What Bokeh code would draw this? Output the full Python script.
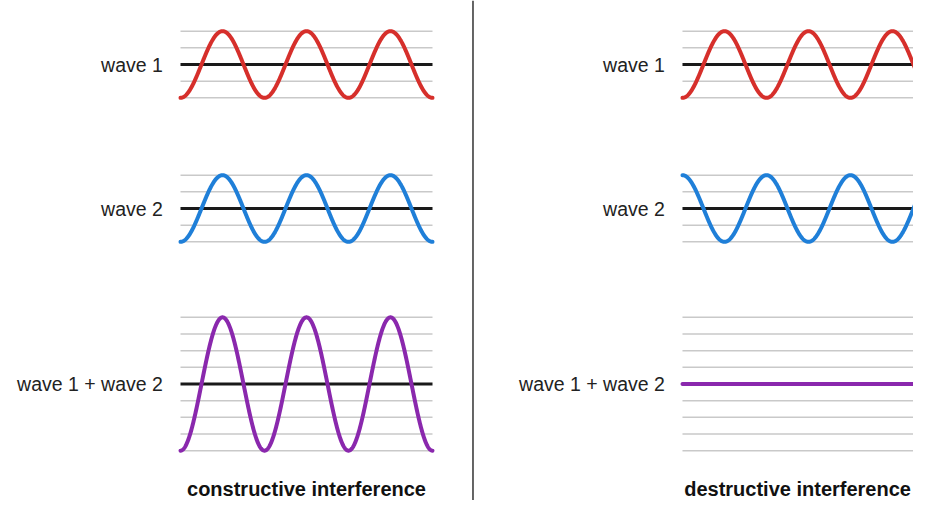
import numpy as np
from bokeh.plotting import figure
from bokeh.models import Range1d, Span
from bokeh.core.properties import value
from bokeh.embed import file_html
from bokeh.resources import INLINE

# ---------------- data ----------------
panel_titles = ["constructive interference", "destructive interference"]
row_labels = ["wave 1", "wave 2", "wave 1 + wave 2"]
n_cycles = 3
wave1_amp = [2.0, 2.0]            # amplitude (grid units) per panel
wave1_phase = [np.pi, np.pi]      # phase per panel (starts at trough)
wave2_amp = [2.0, 2.0]
wave2_phase = [np.pi, 0.0]        # in phase / out of phase
grid_half = [2, 2, 4]             # grid lines on each side of the axis, per row

# ---------------- layout / style ----------------
PANEL_X0 = [0.0, 5.976]
ROW_Y = [19.17, 10.53, 0.0]
LABEL_DX = -0.21
TITLE_DX = [1.5, 1.37]
TITLE_Y = -6.93
DIVIDER_X = 3.482
COLORS = ["#d62f2b", "#1f7fd8", "#8a28ad"]
FONT = "Liberation Sans"

p = figure(width=913, height=500,
           x_range=Range1d(-2.1429, 8.7262), y_range=Range1d(-6.99, 23.01),
           output_backend="svg", toolbar_location=None, min_border=0,
           x_axis_location=None, y_axis_location=None)
p.grid.visible = False
p.outline_line_color = None
p.background_fill_color = "white"
p.border_fill_color = "white"

t = np.linspace(0, n_cycles, 900)

for k in range(2):
    x0 = PANEL_X0[k]
    w1 = wave1_amp[k] * np.cos(2 * np.pi * t + wave1_phase[k])
    w2 = wave2_amp[k] * np.cos(2 * np.pi * t + wave2_phase[k])
    ws = w1 + w2
    waves = [w1, w2, ws]
    for r in range(3):
        yc = ROW_Y[r]
        levels = [lv for lv in range(-grid_half[r], grid_half[r] + 1) if lv != 0]
        p.multi_line(xs=[[x0, x0 + n_cycles] for _ in levels],
                     ys=[[yc + lv, yc + lv] for lv in levels],
                     line_color="#c9c9c9", line_width=1.5)
        p.line([x0, x0 + n_cycles], [yc, yc], line_color="#1a1a1a", line_width=3)
        p.line(x0 + t, yc + waves[r], line_color=COLORS[r], line_width=4,
               line_join="round", line_cap="round")
        p.text(x=[x0 + LABEL_DX], y=[yc], text=[row_labels[r]],
               text_align="right", text_baseline="middle",
               text_font=value(FONT), text_font_size="19.5px", text_color="#222222")
    p.text(x=[x0 + TITLE_DX[k]], y=[TITLE_Y], text=[panel_titles[k]],
           text_align="center", text_baseline="bottom",
           text_font=value(FONT), text_font_size="20px", text_font_style="bold",
           text_color="#111111")

p.add_layout(Span(location=DIVIDER_X, dimension="height",
                  line_color="#333333", line_width=1.5))

open("out.html", "w").write(file_html(p, INLINE))
